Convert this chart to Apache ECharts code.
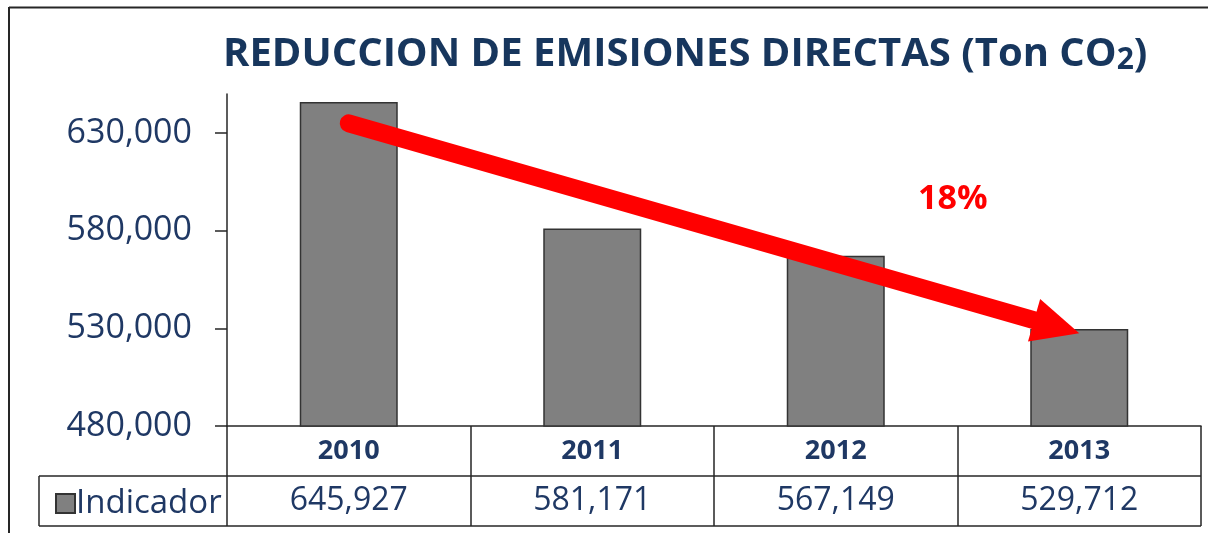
<!DOCTYPE html>
<html>
<head>
<meta charset="utf-8">
<title>Reduccion de emisiones directas</title>
<script src="https://cdn.jsdelivr.net/npm/echarts@6/dist/echarts.min.js"></script>
<style>
  html, body { margin: 0; padding: 0; background: #fff; }
  #chart { width: 1208px; height: 533px; }
</style>
</head>
<body>
<div id="chart"></div>
<script>
const years = ['2010', '2011', '2012', '2013']
const indicador = [645927, 581171, 567149, 529712]
const yTicks = [480000, 530000, 580000, 630000]
const yMin = 480000
const yMax = 650000
// red trend arrow, given in data terms (category, value)
const arrowFrom = ['2010', 635000]
const arrowTo = ['2013', 527500]
const arrowLabel = '18%'

const navy = '#1f3864'
const ink = '#262626'
const font = "'Open Sans', sans-serif"
const fmt = v => v.toLocaleString('en-US')

const W = 1208, H = 533
const grid = { left: 227, right: 7, top: 94, bottom: 107 }
const axisY = H - grid.bottom          // x axis / table top
const rowY = axisY + 50                // line between years and values
const tableBottom = axisY + 100
const tableLeft = 39
const tableRight = W - grid.right

const chart = echarts.init(document.getElementById('chart'))

function hline(id, x1, x2, y, w) {
  return { id, type: 'line', silent: true, z: 10,
    shape: { x1, y1: y, x2, y2: y }, style: { stroke: ink, lineWidth: w || 1.5 } }
}
function vline(id, x, y1, y2, w) {
  return { id, type: 'line', silent: true, z: 10,
    shape: { x1: x, y1, x2: x, y2 }, style: { stroke: ink, lineWidth: w || 1.5 } }
}

chart.setOption({
  animation: false,
  title: {
    text: '{a|REDUCCION DE EMISIONES DIRECTAS (Ton CO}{b|2}{a|)}',
    left: 218,
    top: 30,
    textStyle: {
      rich: {
        a: { fontFamily: font, fontWeight: 'bold', fontSize: 40, color: '#17365d' },
        b: { fontFamily: font, fontWeight: 'bold', fontSize: 30, color: '#17365d', padding: [10, 0, 0, 0] }
      }
    }
  },
  legend: {
    data: ['Indicador'],
    left: 50,
    top: 482,
    icon: 'rect',
    itemWidth: 19,
    itemHeight: 19,
    itemGap: 4,
    textStyle: { fontFamily: font, fontSize: 33, color: navy, padding: [0, 0, 0, -4] }
  },
  grid,
  xAxis: {
    type: 'category',
    data: years,
    axisLine: { lineStyle: { color: ink, width: 1.5 } },
    axisTick: { show: true, interval: 0, alignWithLabel: false, length: 100, lineStyle: { color: ink, width: 1.5 } },
    axisLabel: {
      margin: 0,
      interval: 0,
      color: navy,
      formatter: (v, i) => '{y|' + v + '}\n{v|' + fmt(indicador[i]) + '}',
      rich: {
        y: { fontFamily: font, fontWeight: 'bold', fontSize: 27, lineHeight: 50, color: navy },
        v: { fontFamily: font, fontWeight: 500, fontSize: 32, lineHeight: 50, color: navy }
      }
    }
  },
  yAxis: {
    type: 'value',
    min: yMin,
    max: yMax,
    axisLine: { show: true, lineStyle: { color: ink, width: 1.5 } },
    axisTick: { show: true, length: 12, customValues: yTicks, lineStyle: { color: ink, width: 1.5 } },
    axisLabel: {
      customValues: yTicks,
      margin: 35,
      fontFamily: font,
      fontSize: 34,
      color: navy,
      formatter: v => fmt(v)
    },
    splitLine: { show: false }
  },
  series: [
    {
      name: 'Indicador',
      type: 'bar',
      data: indicador,
      barWidth: 98,
      itemStyle: { color: '#808080', borderColor: '#333333', borderWidth: 1.5 }
    }
  ],
  graphic: {
    elements: [
      // outer frame (left and top edges only, as in the source image)
      vline('frameL', 9, 7, H, 2),
      hline('frameT', 9, W, 7.5, 2),
      // data table rulings below the axis
      hline('rowMid', tableLeft, tableRight, rowY),
      hline('rowBot', tableLeft, tableRight, tableBottom),
      vline('legL', tableLeft, rowY, tableBottom),
      {
        id: 'pct', type: 'text', left: 918, top: 182, z: 20,
        style: { text: arrowLabel, fill: '#ff0000', font: 'bold 34px ' + font }
      }
    ]
  }
})

// arrow drawn from the data positions of its ends
const p0 = chart.convertToPixel({ seriesIndex: 0 }, arrowFrom)
const p1 = chart.convertToPixel({ seriesIndex: 0 }, arrowTo)
const dx = p1[0] - p0[0], dy = p1[1] - p0[1]
const len = Math.hypot(dx, dy)
const ux = dx / len, uy = dy / len
const headLen = 47, headHalf = 22
const bx = p1[0] - ux * headLen, by = p1[1] - uy * headLen

chart.setOption({
  graphic: {
    elements: [
      {
        id: 'arrowShaft', type: 'line', silent: true, z: 30,
        shape: { x1: p0[0], y1: p0[1], x2: bx + ux * 6, y2: by + uy * 6 },
        style: { stroke: '#ff0000', lineWidth: 18, lineCap: 'round' }
      },
      {
        id: 'arrowHead', type: 'polygon', silent: true, z: 30,
        shape: { points: [
          [p1[0], p1[1]],
          [bx - uy * headHalf, by + ux * headHalf],
          [bx + uy * headHalf, by - ux * headHalf]
        ] },
        style: { fill: '#ff0000' }
      }
    ]
  }
})
</script>
</body>
</html>
